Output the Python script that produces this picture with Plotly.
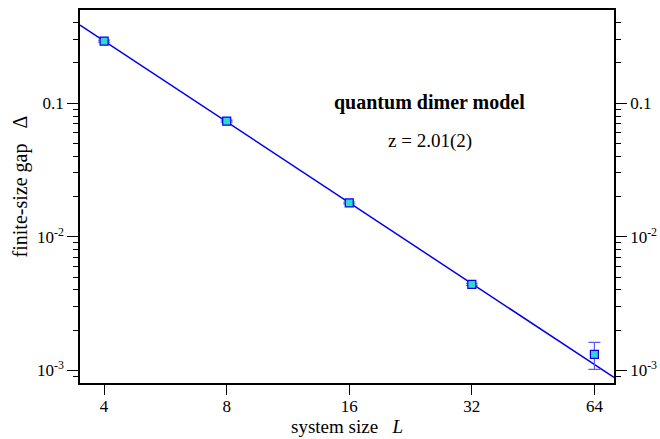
import numpy as np
import plotly.graph_objects as go

# data
L = [4, 8, 16, 32, 64]
gap = [0.291, 0.0733, 0.0179, 0.00441, 0.00132]
gap_err = [0.005, 0.0012, 0.0003, 0.00008, 0.0003]

# fitted power law (z = 2.01), endpoints across the frame
fit_L = [3.49, 71.5]
fit_gap = [0.383, 0.000887]

x_ticks = [4, 8, 16, 32, 64]
y_ticks = [0.001, 0.01, 0.1]
y_ticktext = ["10<sup>-3</sup>", "10<sup>-2</sup>", "0.1"]
minor_y = [m * 10.0 ** e for e in (-4, -3, -2, -1) for m in range(2, 10)]

x_range = [np.log10(3.49), np.log10(71.5)]
y_range = [np.log10(0.000806), np.log10(0.4966)]

FONT = "Liberation Serif"

fig = go.Figure()
fig.add_trace(go.Scatter(x=fit_L, y=fit_gap, mode="lines",
                         line=dict(color="#0000ee", width=1.5),
                         showlegend=False, hoverinfo="skip"))
fig.add_trace(go.Scatter(x=L, y=gap, mode="markers",
                         marker=dict(symbol="square", size=8, color="#33d6d0",
                                     line=dict(color="#0000ee", width=1.2)),
                         error_y=dict(type="data", array=gap_err, visible=True,
                                      color="#5a5aff", thickness=1.2, width=6),
                         showlegend=False))
# invisible trace to anchor the right axis
fig.add_trace(go.Scatter(x=[L[0]], y=[gap[0]], yaxis="y2", mode="markers",
                         marker=dict(opacity=0), showlegend=False, hoverinfo="skip"))

yaxis_common = dict(type="log", range=y_range, tickvals=y_ticks, ticktext=y_ticktext,
                    ticks="outside", ticklen=11, tickwidth=1.2, tickcolor="black",
                    showline=True, linecolor="black", linewidth=1.5,
                    showgrid=False, zeroline=False, automargin=False,
                    tickfont=dict(family=FONT, size=17, color="black"),
                    minor=dict(tickvals=minor_y, ticks="outside", ticklen=5,
                               tickwidth=1.2, tickcolor="black", showgrid=False))

fig.update_layout(
    width=660, height=439,
    margin=dict(l=80, r=46, t=10, b=56),
    plot_bgcolor="white", paper_bgcolor="white",
    font=dict(family=FONT, size=17, color="black"),
    xaxis=dict(type="log", range=x_range, tickvals=x_ticks,
               ticktext=[str(v) for v in x_ticks],
               ticks="outside", ticklen=10, tickwidth=1.2, tickcolor="black",
               ticklabelstandoff=-3,
               showline=True, linecolor="black", linewidth=1.5, mirror=True,
               showgrid=False, zeroline=False, automargin=False,
               tickfont=dict(family=FONT, size=17, color="black"),
               title=dict(text="system size   <i>L</i>", standoff=0,
                          font=dict(family=FONT, size=19))),
    yaxis=dict(**yaxis_common),
    yaxis2=dict(**yaxis_common, overlaying="y", side="right"),
    annotations=[
        dict(x=-0.1124, y=0.527, xref="paper", yref="paper", showarrow=False,
             xanchor="center", yanchor="middle",
             text="finite-size gap   Δ", textangle=-90,
             font=dict(family=FONT, size=20, color="black")),
        dict(x=0.655, y=0.753, xref="paper", yref="paper", showarrow=False,
             xanchor="center", yanchor="middle",
             text="<b>quantum dimer model</b>",
             font=dict(family=FONT, size=20, color="black")),
        dict(x=0.655, y=0.649, xref="paper", yref="paper", showarrow=False,
             xanchor="center", yanchor="middle",
             text="z = 2.01(2)",
             font=dict(family=FONT, size=19, color="black")),
    ],
)

fig.write_html("out.html", config={"displayModeBar": False},
               post_script="document.body.style.margin='0';document.body.style.padding='0';")
